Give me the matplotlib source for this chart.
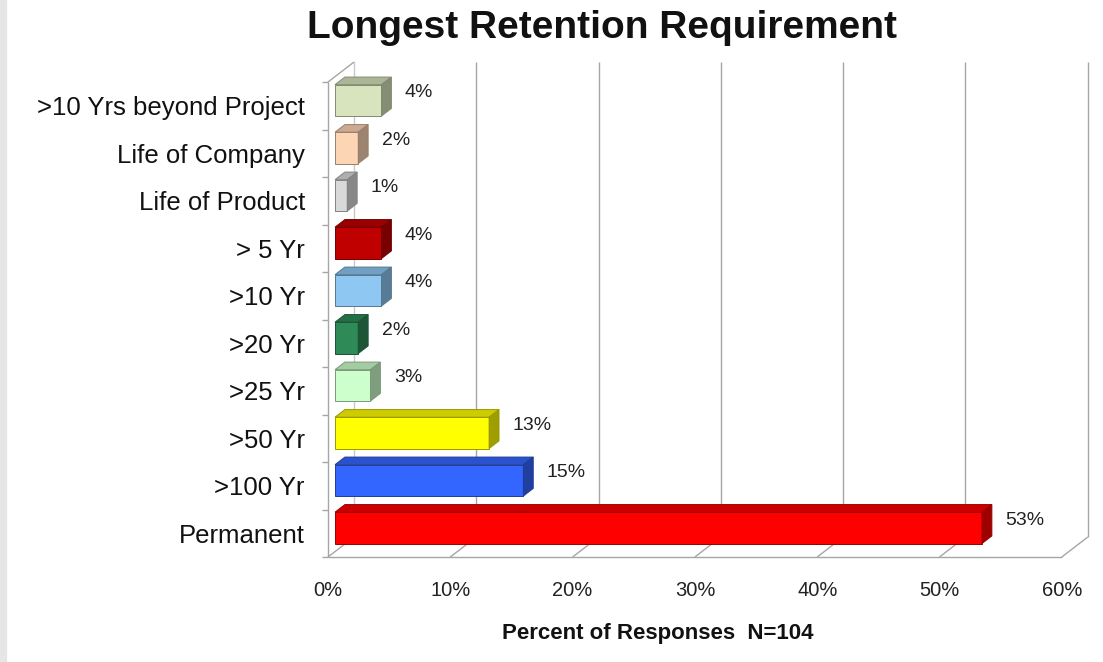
import matplotlib.pyplot as plt
import matplotlib.colors as mcolors
from matplotlib.patches import Polygon, Rectangle

plt.rcParams['font.family'] = ['Liberation Sans', 'DejaVu Sans']

# Data (bottom to top)
categories = ['Permanent', '>100 Yr', '>50 Yr', '>25 Yr', '>20 Yr', '>10 Yr',
              '> 5 Yr', 'Life of Product', 'Life of Company', '>10 Yrs beyond Project']
values = [52.9, 15.4, 12.6, 2.9, 1.9, 3.8, 3.8, 1.0, 1.9, 3.8]
colors = ['#FF0000', '#3366FF', '#FFFF00', '#CCFFCC', '#2E8B57', '#8EC8F2',
          '#C00000', '#D9D9D9', '#FCD5B4', '#D7E4BD']
xticks = [0, 10, 20, 30, 40, 50, 60]


def shade(c, f):
    r, g, b = mcolors.to_rgb(c)
    return (r * f, g * f, b * f)


# pixel layout of the pseudo-3D frame
W, H = 1103, 662
PX_X, X0 = 12.23, 328      # px per percent, px of 0% on front plane
PX_Y, Y0 = 47.5, 557       # px per category, px (from top) of front floor
DX, DY = 26 / PX_X, 20 / PX_Y   # depth offset in data units
T1, T2 = 0.27, 0.65        # bar front / back depth fraction
BH = 0.66                  # bar height (category units)

fig = plt.figure(figsize=(W / 100, H / 100), dpi=100)
ax = fig.add_axes([0, 0, 1, 1])
ax.set_xlim(-X0 / PX_X, (W - X0) / PX_X)
ax.set_ylim((Y0 - H) / PX_Y, Y0 / PX_Y)
ax.axis('off')

fig.patches.append(Rectangle((0, 0), 6 / W, 1, transform=fig.transFigure,
                             color='#E6E6E6', zorder=0))

n = len(categories)
xmax = xticks[-1]
line = dict(color='#A6A6A6', lw=1, zorder=1, solid_capstyle='butt')

# back wall gridlines
for t in xticks[1:]:
    ax.plot([t + DX, t + DX], [DY, n + DY], **line)
# left wall
ax.plot([0, 0], [0, n], **line)
ax.plot([DX, DX], [DY, n + DY], color='#C8C8C8', lw=1, zorder=1)
ax.plot([0, DX], [n, n + DY], **line)
for k in range(n + 1):
    ax.plot([-0.5, 0], [k, k], **line)
# floor
ax.plot([0, xmax], [0, 0], **line)
for t in xticks:
    ax.plot([t, t + DX], [0, DY], **line)

# bars
for i, (v, c) in enumerate(zip(values, colors)):
    x0, x1 = T1 * DX, v + T1 * DX
    yb = i + (1 - BH) / 2 + T1 * DY
    yt = yb + BH
    ddx, ddy = (T2 - T1) * DX, (T2 - T1) * DY
    ec = shade(c, 0.6)
    front = Polygon([(x0, yb), (x1, yb), (x1, yt), (x0, yt)], closed=True,
                    facecolor=c, edgecolor=ec, lw=0.7, zorder=3)
    top = Polygon([(x0, yt), (x1, yt), (x1 + ddx, yt + ddy), (x0 + ddx, yt + ddy)],
                  closed=True, facecolor=shade(c, 0.8), edgecolor=ec, lw=0.7, zorder=3)
    side = Polygon([(x1, yb), (x1 + ddx, yb + ddy), (x1 + ddx, yt + ddy), (x1, yt)],
                   closed=True, facecolor=shade(c, 0.62), edgecolor=ec, lw=0.7, zorder=3)
    for p in (front, top, side):
        ax.add_patch(p)
    ax.text(v + T2 * DX + 1.1, i + 0.5 + T2 * DY, f"{v:.0f}%", ha='left', va='center',
            fontsize=14, color='#222222', zorder=4)

# category labels
for i, name in enumerate(categories):
    ax.text(-1.9, i + 0.45, name, ha='right', va='center', fontsize=18.5, color='#111111')

# x tick labels
for t in xticks:
    ax.text(t, -0.7, f"{t}%", ha='center', va='center', fontsize=14.5, color='#222222')

fig.text(602 / W, 1 - 28 / H, 'Longest Retention Requirement', ha='center', va='center',
         fontsize=28, fontweight='bold', color='#111111')
fig.text(658 / W, 1 - 633 / H, 'Percent of Responses  N=104', ha='center', va='center',
         fontsize=16, fontweight='bold', color='#111111')

fig.savefig('out.png', dpi=100, facecolor='white')
